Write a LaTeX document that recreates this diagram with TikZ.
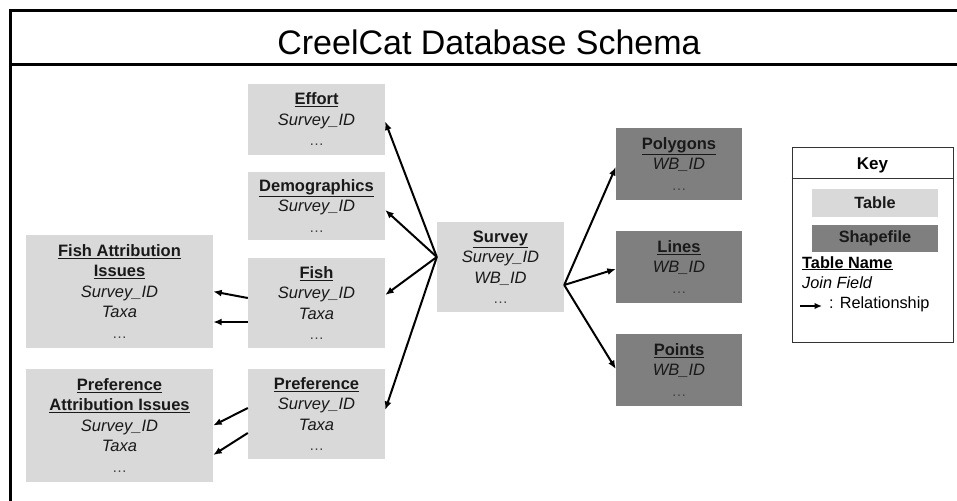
\documentclass[tikz,border=0pt]{standalone}
\usepackage{fontspec}
\setmainfont{Liberation Sans}
\usetikzlibrary{arrows.meta}

\definecolor{tablegray}{HTML}{D9D9D9}
\definecolor{shapegray}{HTML}{7F7F7F}
\definecolor{dotgray}{HTML}{444444}

\newcommand{\tname}[1]{\underline{\textbf{#1}}}
\newcommand{\dotsrow}{{\color{dotgray}\fontsize{15}{20.5}\selectfont …}}

\tikzset{
  tablebox/.style={fill=tablegray, inner sep=0pt, align=center,
    font=\fontsize{16.5}{20.5}\selectfont, text=black!90},
  shapebox/.style={tablebox, fill=shapegray},
  keyswatch/.style={font=\fontsize{16.3}{19}\selectfont\bfseries},
  keytext/.style={anchor=base west, inner sep=0pt, font=\fontsize{16.3}{19}\selectfont},
  rel/.style={line width=2pt, -{Latex[length=8.5pt,width=7pt]}},
  frameline/.style={line width=3pt, line cap=rect},
}

\begin{document}
\begin{tikzpicture}[x=1pt, y=-1pt]
\useasboundingbox (0,0) rectangle (957,500);

% outer frame and title bar
\draw[frameline] (10.5,500) -- (10.5,11) -- (957,11);
\draw[frameline] (10.5,64.5) -- (957,64.5);
\node[anchor=base, font=\fontsize{34}{37}\selectfont] (title) at (489,55) {CreelCat Database Schema};

% tables linked to the survey
\node[tablebox, minimum width=137pt, minimum height=71pt] (effort) at (316.5,119.5)
  {\tname{Effort}\\ \textit{Survey\_ID}\\ \dotsrow};
\node[tablebox, minimum width=137pt, minimum height=68pt] (demo) at (316.5,206)
  {\tname{Demographics}\\ \textit{Survey\_ID}\\ \dotsrow};
\node[tablebox, minimum width=137pt, minimum height=90pt] (fish) at (316.5,303)
  {\tname{Fish}\\ \textit{Survey\_ID}\\ \textit{Taxa}\\ \dotsrow};
\node[tablebox, minimum width=137pt, minimum height=90pt] (pref) at (316.5,414)
  {\tname{Preference}\\ \textit{Survey\_ID}\\ \textit{Taxa}\\ \dotsrow};

% attribution issue tables
\node[tablebox, minimum width=187pt, minimum height=113pt] (fai) at (119.5,291.5)
  {\tname{Fish Attribution}\\ \tname{Issues}\\ \textit{Survey\_ID}\\ \textit{Taxa}\\ \dotsrow};
\node[tablebox, minimum width=187pt, minimum height=113pt] (pai) at (119.5,425.5)
  {\tname{Preference}\\ \tname{Attribution Issues}\\ \textit{Survey\_ID}\\ \textit{Taxa}\\ \dotsrow};

% central survey table
\node[tablebox, minimum width=127pt, minimum height=90pt] (survey) at (500.5,267)
  {\tname{Survey}\\ \textit{Survey\_ID}\\ \textit{WB\_ID}\\ \dotsrow};

% shapefiles
\node[shapebox, minimum width=126pt, minimum height=72pt] (poly) at (679,164)
  {\tname{Polygons}\\ \textit{WB\_ID}\\ \dotsrow};
\node[shapebox, minimum width=126pt, minimum height=72pt] (lines) at (679,267)
  {\tname{Lines}\\ \textit{WB\_ID}\\ \dotsrow};
\node[shapebox, minimum width=126pt, minimum height=72pt] (points) at (679,370)
  {\tname{Points}\\ \textit{WB\_ID}\\ \dotsrow};

% relationships
\draw[rel] ([yshift=10pt]survey.west) -- ([yshift=-2pt]effort.east);
\draw[rel] ([yshift=10pt]survey.west) -- ([yshift=-4pt]demo.east);
\draw[rel] ([yshift=10pt]survey.west) -- ([yshift=8pt]fish.east);
\draw[rel] ([yshift=10pt]survey.west) -- ([yshift=4pt]pref.east);

\draw[rel] ([yshift=-18pt]survey.east) -- ([yshift=-3pt]poly.west);
\draw[rel] ([yshift=-18pt]survey.east) -- ([yshift=-2pt]lines.west);
\draw[rel] ([yshift=-18pt]survey.east) -- ([yshift=1pt]points.west);

\draw[rel] ([yshift=5pt]fish.west) -- (fai.east);
\draw[rel] ([yshift=-19pt]fish.west) -- ([yshift=-30.5pt]fai.east);
\draw[rel] ([yshift=6pt]pref.west) -- (pai.east);
\draw[rel] ([yshift=-19pt]pref.west) -- ([yshift=-29.5pt]pai.east);

% key
\node[draw=black!80, line width=0.8pt, minimum width=161pt, minimum height=195pt, inner sep=0pt] (key) at (872.5,244.5) {};
\draw[black!80, line width=0.8pt] (key.west |- 0,178) -- (key.east |- 0,178);
\node[font=\fontsize{17}{20}\selectfont\bfseries, anchor=base] (keytitle) at (872.5,169) {Key};
\node[tablebox, keyswatch, minimum width=126pt, minimum height=28pt] (ktable) at (875,203) {Table};
\node[shapebox, keyswatch, minimum width=126pt, minimum height=27pt] (kshape) at (875,238.5) {Shapefile};
\node[keytext] (kname) at (802,268) {\tname{Table Name}};
\node[keytext] (kjoin) at (802,288) {\textit{Join Field}};
\node[keytext] (krel) at (829,308) {: Relationship};
\coordinate (krelstart) at (800,306);
\draw[line width=1.8pt, -{Latex[length=7.5pt,width=6.5pt]}] (krelstart) -- ++(22,0);
\end{tikzpicture}
\end{document}
